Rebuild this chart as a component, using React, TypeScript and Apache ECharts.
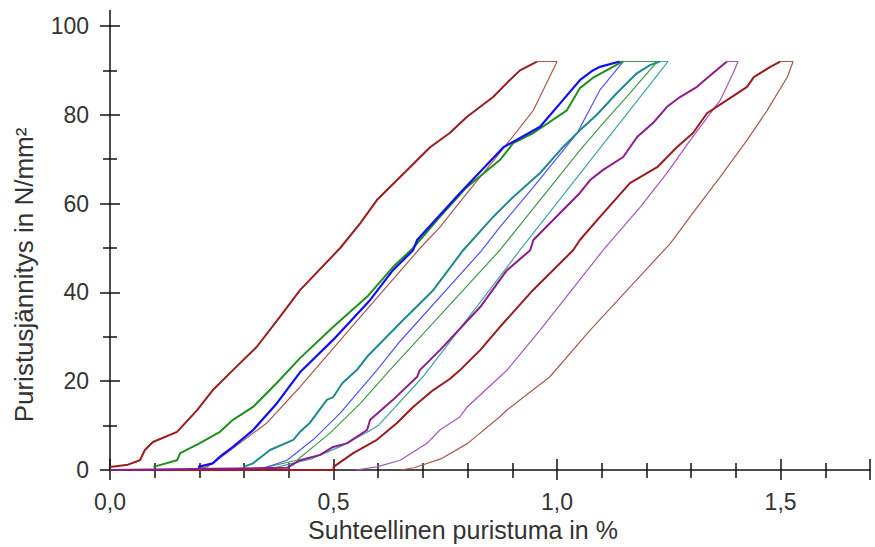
import React, { useEffect, useRef } from "react";
import * as echarts from "echarts";

// Tick label values
const xTickLabels = [0, 0.5, 1.0, 1.5];
const yTickLabels = [0, 20, 40, 60, 80, 100];

// Loop 1 (dark red)
const darkRed1Load: number[][] = [
  [0, 0.7], [0.04, 1.2], [0.067, 2.2], [0.078, 4.5], [0.096, 6.3], [0.15, 8.6], [0.195, 13.5],
  [0.23, 18], [0.275, 22.5], [0.328, 27.7], [0.38, 34.5], [0.425, 40.5], [0.515, 50], [0.56, 55.6],
  [0.597, 60.8], [0.671, 68.2], [0.716, 72.7], [0.76, 75.9], [0.798, 79.5], [0.857, 84],
  [0.888, 87.2], [0.917, 90], [0.955, 92],
];
const darkRed1Unload: number[][] = [
  [0.955, 92], [1.0, 92], [0.947, 81], [0.872, 71.4], [0.799, 62.4], [0.738, 54.7], [0.694, 50],
  [0.56, 34.5], [0.425, 18.7], [0.351, 10.6], [0.29, 6], [0.246, 2.7], [0.217, 0.7], [0.18, 0],
];

// Green
const greenLoad: number[][] = [
  [0.097, 0.7], [0.15, 2.2], [0.157, 3.8], [0.2, 6], [0.246, 8.6], [0.275, 11.3], [0.32, 14.2],
  [0.373, 19.6], [0.425, 25.2], [0.499, 32.2], [0.575, 39], [0.633, 45.7], [0.678, 50],
  [0.738, 57], [0.798, 63.7], [0.872, 69.8], [0.902, 73.6], [0.947, 75.9], [1.022, 81],
  [1.051, 86], [1.08, 88.3], [1.141, 91.7], [1.148, 92],
];
const greenUnload: number[][] = [
  [1.148, 92], [1.224, 92], [1.163, 84.9], [1.096, 77.3], [1.051, 72], [0.872, 49.5],
  [0.626, 22.5], [0.56, 15], [0.492, 8.3], [0.418, 2.2], [0.335, 0.3],
];

// Blue
const blueLoad: number[][] = [
  [0.197, 0.7], [0.23, 1.5], [0.246, 3], [0.275, 5.2], [0.32, 9], [0.373, 15], [0.425, 22],
  [0.499, 29.3], [0.582, 38.3], [0.633, 45], [0.678, 49.5], [0.687, 51.8], [0.783, 62.4],
  [0.88, 72.7], [0.962, 77.3], [1.013, 83.3], [1.051, 87.8], [1.08, 90], [1.096, 90.8], [1.14, 92],
];
const blueUnload: number[][] = [
  [1.14, 92], [1.148, 92], [1.096, 85.6], [1.045, 75.9], [0.947, 63.7], [0.872, 54.7],
  [0.832, 49.5], [0.649, 29], [0.597, 22.5], [0.515, 12.8], [0.454, 6.8], [0.396, 2.2], [0.342, 0.4],
];

// Teal
const tealLoad: number[][] = [
  [0.298, 0.7], [0.32, 1.5], [0.358, 4.5], [0.41, 6.8], [0.425, 8.6], [0.447, 10.6], [0.485, 15.8],
  [0.499, 16.4], [0.52, 19.6], [0.552, 22.5], [0.575, 25.5], [0.649, 33.1], [0.723, 40.5],
  [0.79, 49.5], [0.857, 57], [0.902, 61.5], [0.962, 66.9], [1.013, 72.7], [1.051, 76.5],
  [1.089, 80], [1.134, 84.9], [1.157, 87.2], [1.179, 89.4], [1.208, 91.2], [1.23, 92],
];
const tealUnload: number[][] = [
  [1.23, 92], [1.248, 92], [0.917, 49.5], [0.7, 21], [0.6, 10], [0.575, 8.5], [0.52, 5.5],
  [0.45, 2.5], [0.36, 0.3],
];

// Purple
const purpleLoad: number[][] = [
  [0, 0], [0.396, 0.5], [0.425, 2.2], [0.47, 3.4], [0.499, 5.2], [0.53, 6], [0.575, 9],
  [0.582, 11.3], [0.633, 15.8], [0.687, 21], [0.693, 22.5], [0.738, 27], [0.828, 36.7],
  [0.888, 45], [0.94, 49.5], [0.947, 51.8], [1.051, 62.4], [1.074, 65.3], [1.103, 67.6],
  [1.148, 70.5], [1.179, 75], [1.215, 78.2], [1.246, 81.8], [1.275, 84], [1.313, 86.3],
  [1.349, 89.4], [1.38, 92],
];
const purpleUnload: number[][] = [
  [1.38, 92], [1.405, 92], [1.394, 89.4], [1.365, 83.3], [1.298, 74.3], [1.246, 66.9],
  [1.186, 59.2], [1.103, 49.5], [0.962, 31.5], [0.888, 22.5], [0.872, 21], [0.799, 14.2],
  [0.783, 12], [0.738, 9], [0.709, 6], [0.649, 2.2], [0.597, 0.7], [0.55, 0],
];

// Loop 2 (dark red)
const darkRed2Load: number[][] = [
  [0, 0], [0.5, 0], [0.5, 0.7], [0.544, 3.8], [0.597, 6.8], [0.642, 10.6], [0.678, 14.2],
  [0.723, 18], [0.76, 20.5], [0.783, 22.5], [0.828, 27], [0.872, 32.2], [0.946, 40.5],
  [1.036, 49.5], [1.051, 51.8], [1.096, 57], [1.163, 64.6], [1.224, 68.2], [1.268, 72.7],
  [1.304, 75.9], [1.336, 80.4], [1.38, 83.3], [1.425, 86.3], [1.44, 88.5], [1.477, 90.8], [1.499, 92],
];
const darkRed2Unload: number[][] = [
  [1.499, 92], [1.528, 92], [1.515, 88.5], [1.47, 81], [1.425, 74.3], [1.365, 66], [1.304, 57.9],
  [1.253, 51], [1.074, 31.5], [0.984, 21], [0.888, 13.5], [0.872, 12], [0.8, 6], [0.74, 2.5],
  [0.68, 0.5], [0.65, 0],
];

const FONT = "'Liberation Sans', Arial, sans-serif";
const AXIS = "#111";

function line(name: string, data: number[][], color: string, width: number) {
  return {
    name,
    type: "line",
    data,
    showSymbol: false,
    symbol: "none",
    smooth: false,
    clip: false,
    lineStyle: { color, width },
    xAxisIndex: 0,
    yAxisIndex: 0,
  };
}

export default function App() {
  const ref = useRef<HTMLDivElement>(null);
  useEffect(() => {
    if (!ref.current) return;
    const chart = echarts.init(ref.current, undefined, { renderer: "svg" });
    const xFmt = (v: number) =>
      xTickLabels.some((t) => Math.abs(t - v) < 1e-6) ? v.toFixed(1).replace(".", ",") : "";
    const yFmt = (v: number) =>
      yTickLabels.some((t) => Math.abs(t - v) < 1e-6) ? String(v) : "";
    const baseX = {
      type: "value",
      min: 0,
      max: 1.7,
      interval: 0.5,
      position: "bottom",
      splitLine: { show: false },
      minorSplitLine: { show: false },
    };
    const baseY = {
      type: "value",
      min: 0,
      max: 100,
      interval: 20,
      position: "left",
      splitLine: { show: false },
      minorSplitLine: { show: false },
    };
    chart.setOption({
      animation: false,
      backgroundColor: "#fff",
      grid: { left: 110, right: 5, top: 26, bottom: 77, containLabel: false },
      xAxis: [
        {
          ...baseX,
          axisLine: { show: true, onZero: false, lineStyle: { color: AXIS, width: 1.5 } },
          axisTick: { show: true, inside: false, length: 10, lineStyle: { color: AXIS, width: 1.5 } },
          minorTick: { show: true, splitNumber: 5, length: 8, lineStyle: { color: AXIS, width: 1.5 } },
          axisLabel: { formatter: xFmt, fontSize: 23, color: "#333", margin: 20, fontFamily: FONT },
        },
        {
          ...baseX,
          axisLine: { show: false, onZero: false },
          axisTick: { show: true, inside: true, length: 11, lineStyle: { color: AXIS, width: 1.5 } },
          minorTick: { show: true, splitNumber: 5, length: 7, lineStyle: { color: AXIS, width: 1.5 } },
          axisLabel: { show: false },
        },
      ],
      yAxis: [
        {
          ...baseY,
          axisLine: { show: true, onZero: false, lineStyle: { color: AXIS, width: 1.5 } },
          axisTick: { show: true, inside: false, length: 10, lineStyle: { color: AXIS, width: 1.5 } },
          minorTick: { show: true, splitNumber: 2, length: 7, lineStyle: { color: AXIS, width: 1.5 } },
          axisLabel: { formatter: yFmt, fontSize: 23, color: "#333", margin: 21, fontFamily: FONT },
        },
        {
          ...baseY,
          axisLine: { show: false, onZero: false },
          axisTick: { show: true, inside: true, length: 10, lineStyle: { color: AXIS, width: 1.5 } },
          minorTick: { show: true, splitNumber: 2, length: 7, lineStyle: { color: AXIS, width: 1.5 } },
          axisLabel: { show: false },
        },
      ],
      graphic: [
        {
          type: "line",
          shape: { x1: 110, y1: 10, x2: 110, y2: 26 },
          style: { stroke: AXIS, lineWidth: 1.5 },
        },
        {
          type: "text",
          x: 463,
          y: 530,
          style: {
            text: "Suhteellinen puristuma in %",
            fontSize: 25,
            fontFamily: FONT,
            fill: "#333",
            align: "center",
            verticalAlign: "middle",
          },
        },
        {
          type: "text",
          x: 24,
          y: 275,
          rotation: Math.PI / 2,
          style: {
            text: "Puristusjännitys in N/mm²",
            fontSize: 26,
            fontFamily: FONT,
            fill: "#333",
            align: "center",
            verticalAlign: "middle",
          },
        },
      ],
      series: [
        line("Kuorman poisto 1", darkRed1Unload, "#a8584f", 1.2),
        line("Kuorman poisto vihreä", greenUnload, "#3f9a48", 1.2),
        line("Kuorman poisto sininen", blueUnload, "#5050ff", 1.2),
        line("Kuorman poisto turkoosi", tealUnload, "#3fa3a3", 1.2),
        line("Kuorman poisto violetti", purpleUnload, "#a652c4", 1.2),
        line("Kuorman poisto 2", darkRed2Unload, "#a8584f", 1.2),
        line("Kuormitus 1", darkRed1Load, "#9a1c1c", 2),
        line("Kuormitus vihreä", greenLoad, "#1f8f1f", 2),
        line("Kuormitus sininen", blueLoad, "#1010f0", 2.2),
        line("Kuormitus turkoosi", tealLoad, "#1e8a8a", 2),
        line("Kuormitus 2", darkRed2Load, "#9a1c1c", 2),
        line("Kuormitus violetti", purpleLoad, "#8c1c8c", 2),
      ],
    });
    return () => chart.dispose();
  }, []);
  return (
    <div
      ref={ref}
      style={{ position: "absolute", left: 0, top: 0, width: 875, height: 547, background: "#fff" }}
    />
  );
}
